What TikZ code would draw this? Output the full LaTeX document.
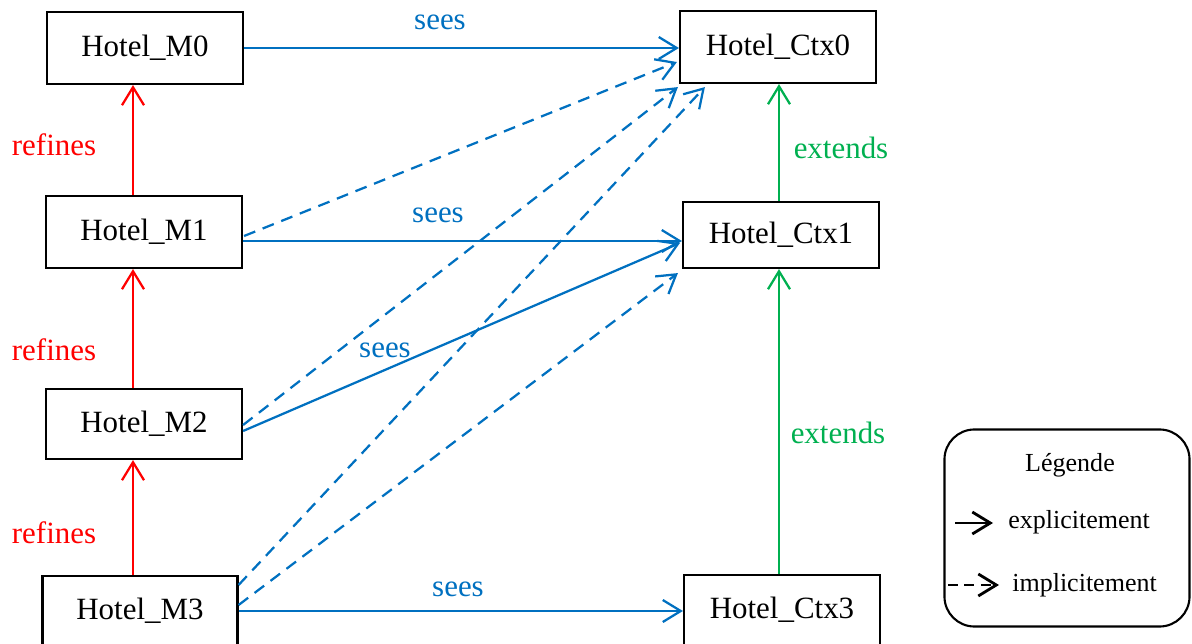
\documentclass[tikz,border=0pt]{standalone}
\usepackage{fontspec}
\setmainfont{Liberation Serif}
\usetikzlibrary{arrows.meta,calc}

\definecolor{seesblue}{RGB}{0,112,192}
\definecolor{refred}{RGB}{255,0,0}
\definecolor{extgreen}{RGB}{0,176,80}

\begin{document}
\begin{tikzpicture}[x=0.025cm, y=-0.025cm,
    box/.style={draw, line width=1.5pt, minimum width=4.9cm, minimum height=1.8cm, inner sep=0pt, font=\fontsize{22}{26}\selectfont},
    lab/.style={inner sep=0pt, font=\fontsize{22}{26}\selectfont},
    leg/.style={inner sep=0pt, font=\fontsize{18.5}{22}\selectfont},
    arr/.style={line width=1.6pt, -{Straight Barb[length=4.5mm, width=5.5mm]}},
    implicit/.style={arr, dash pattern=on 3mm off 2mm}]
  \useasboundingbox (0,0) rectangle (1192,644);

  % Machines and contexts:
  \node[box] (m0) at (145,48) {Hotel\_M0};
  \node[box] (m1) at (144,232) {Hotel\_M1};
  \node[box, minimum height=1.75cm] (m2) at (144,424) {Hotel\_M2};
  \node[box, minimum width=4.875cm, minimum height=1.75cm] (m3) at (140,611) {Hotel\_M3};
  \node[box] (ctx0) at (778,47) {Hotel\_Ctx0};
  \node[box, minimum height=1.65cm] (ctx1) at (781,235) {Hotel\_Ctx1};
  \node[box, minimum height=1.75cm] (ctx3) at (782,610) {Hotel\_Ctx3};

  % refines:
  \draw[arr, refred] ($(m1.north)+(-11,0)$) coordinate (r1) -- (r1 |- m0.south);
  \draw[arr, refred] ($(m2.north)+(-11,0)$) coordinate (r2) -- (r2 |- m1.south);
  \draw[arr, refred] ($(m3.north)+(-7,0)$) coordinate (r3) -- (r3 |- m2.south);
  \node[lab, text=refred] (ref1) at (54,145) {refines};
  \node[lab, text=refred] (ref2) at (54,350) {refines};
  \node[lab, text=refred] (ref3) at (54,533) {refines};

  % extends:
  \draw[arr, extgreen] ($(ctx1.north)+(-2,0)$) coordinate (e1) -- (e1 |- ctx0.south);
  \draw[arr, extgreen] ($(ctx3.north)+(-3,0)$) coordinate (e3) -- (e3 |- ctx1.south);
  \node[lab, text=extgreen] (ext1) at (841,148) {extends};
  \node[lab, text=extgreen] (ext3) at (838,433) {extends};

  % sees (explicit):
  \draw[arr, seesblue] (m0.east) -- (m0.east -| ctx0.west);
  \draw[arr, seesblue] ($(m1.east)+(0,9)$) coordinate (s1) -- (s1 -| ctx1.west);
  \draw[arr, seesblue] ($(m2.east)+(0,7)$) -- ($(ctx1.west)+(-2,8)$);
  \draw[arr, seesblue] (m3.east) -- (m3.east -| ctx3.west);
  \node[lab, text=seesblue] (sees0) at (440,22) {sees};
  \node[lab, text=seesblue] (sees1) at (438,215) {sees};
  \node[lab, text=seesblue] (sees2) at (385,350) {sees};
  \node[lab, text=seesblue] (sees3) at (458,589) {sees};

  % sees (implicit):
  \draw[implicit, seesblue] ($(m1.east)+(1,4)$) -- ($(ctx0.west)+(-2,15)$);
  \draw[implicit, seesblue] ($(m2.east)+(0,1)$) -- ($(ctx0.south west)+(-1,3)$);
  \draw[implicit, seesblue] ($(m3.east)+(0,-26)$) -- ($(ctx0.south west)+(26,3)$);
  \draw[implicit, seesblue] ($(m3.east)+(0,-6)$) -- ($(ctx1.south west)+(-4,4)$);

  % Legend:
  \node[draw, line width=1.5pt, rounded corners=0.75cm, minimum width=6.125cm, minimum height=4.925cm] (legend) at (1067,528) {};
  \node[leg] (legtitle) at (1070,465) {Légende};
  \node[leg, anchor=west] (legexp) at (1008,522) {explicitement};
  \node[leg, anchor=west] (legimp) at (1012,585) {implicitement};
  \coordinate (expstart) at (955,523);
  \coordinate (impstart) at (948,585);
  \draw[arr, line width=2pt] (expstart) -- ($(legexp.west)+(-15,1)$);
  \draw[arr, line width=2pt, dash pattern=on 2.5mm off 1.6mm] (impstart) -- ($(legimp.west)+(-13,0)$);
\end{tikzpicture}
\end{document}
